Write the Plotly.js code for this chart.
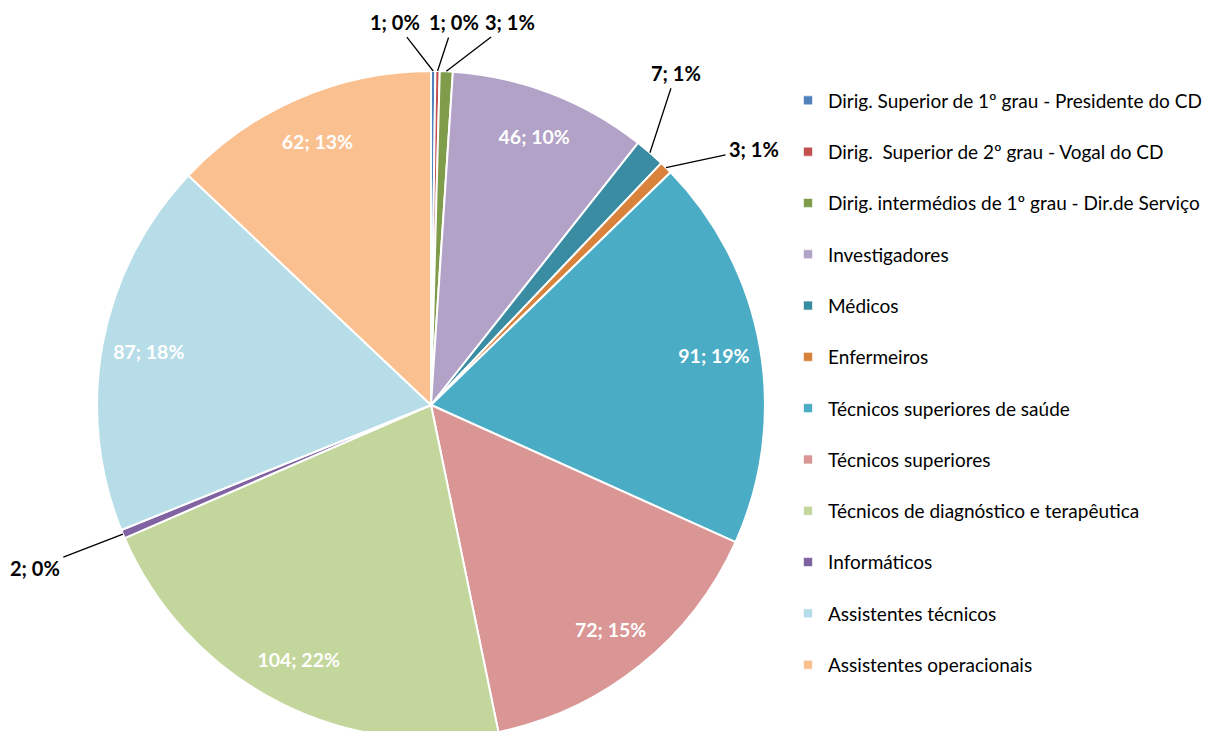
<!DOCTYPE html>
<html><head><meta charset="utf-8">
<script src="https://cdn.plot.ly/plotly-3.0.1.min.js"></script>
<style>html,body{margin:0;padding:0;overflow:hidden;background:#fff}#chart{width:1211px;height:760px}</style>
</head><body><div id="chart"></div>
<script>
const categories = [
  "Dirig. Superior de 1º grau - Presidente do CD",
  "Dirig.  Superior de 2º grau - Vogal do CD",
  "Dirig. intermédios de 1º grau - Dir.de Serviço",
  "Investigadores",
  "Médicos",
  "Enfermeiros",
  "Técnicos superiores de saúde",
  "Técnicos superiores",
  "Técnicos de diagnóstico e terapêutica",
  "Informáticos",
  "Assistentes técnicos",
  "Assistentes operacionais"
];
const values = [1, 1, 3, 46, 7, 3, 91, 72, 104, 2, 87, 62];
const colors = ["#4F81BD","#C0504D","#7F9C4B","#B2A2C7","#3A8CA3","#D9823B","#4BACC6","#D99694","#C3D69B","#8064A2","#B7DDE8","#FAC090"];
const outsideThreshold = 10;

const W = 1211, H = 760;
const cx = 431, cy = 405, R = 334;
const dom = {x:[(cx-R)/W,(cx+R)/W], y:[(H-(cy+R))/H,(H-(cy-R))/H]};

// label placement (pixel offsets of the text centre from the slice's outer edge midpoint)
const labelOffsets = {0:[-38,-49], 1:[16,-49], 2:[64,-49], 4:[26,-80], 5:[88,-19], 9:[-88,34]};

const total = values.reduce((a,b)=>a+b,0);
const fmt = (v)=> v + "; " + Math.round(100*v/total) + "%";
const textArr = values.map(v => v < outsideThreshold ? "" : fmt(v));

const traces = [
 {type:"pie", labels:categories, values:values, sort:false, direction:"clockwise", rotation:0,
  marker:{colors:colors, line:{color:"#FFFFFF", width:2}}, textinfo:"none", hoverinfo:"label+value+percent",
  domain:dom, showlegend:false},
 {type:"pie", labels:categories, values:values, sort:false, direction:"clockwise", rotation:0, hole:0.72,
  marker:{colors:colors.map(()=> "rgba(0,0,0,0)"), line:{width:0}},
  text:textArr, textinfo:"text", textposition:"inside", insidetextorientation:"horizontal",
  textfont:{family:"Lato", size:19.5, color:"#FFFFFF", weight:"bold"},
  hoverinfo:"skip", domain:dom, showlegend:false}
];
categories.forEach((c,i)=>{
  traces.push({type:"scatter", x:[null], y:[null], mode:"markers", name:c, legendgroup:"g"+i,
    marker:{symbol:"square", size:9, color:colors[i], line:{color:"rgba(255,255,255,0.6)", width:1}},
    hoverinfo:"skip"});
});

const annotations = [];
let cum = 0;
values.forEach((v,i)=>{
  const mid = 2*Math.PI*(cum + v/2)/total;
  cum += v;
  if (v >= outsideThreshold) return;
  const px = cx + R*Math.sin(mid), py = cy - R*Math.cos(mid);
  const off = labelOffsets[i] || [0,-30];
  annotations.push({xref:"paper", yref:"paper", x:px/W, y:1-py/H, ax:off[0], ay:off[1],
    text:fmt(v), showarrow:true, arrowhead:0, arrowwidth:1.3, arrowcolor:"#000000", standoff:0, startstandoff:2,
    font:{family:"Lato", size:20, color:"#000000", weight:"bold"}});
});

const layout = {
  width:W, height:H, margin:{l:0,r:0,t:0,b:0},
  paper_bgcolor:"#FFFFFF", plot_bgcolor:"#FFFFFF",
  xaxis:{visible:false}, yaxis:{visible:false},
  showlegend:true, annotations:annotations,
  legend:{x:788/W, xanchor:"left", y:1-81.5/H, yanchor:"top", tracegroupgap:23.6,
    font:{family:"Lato", size:19, color:"#000000"}, bgcolor:"rgba(0,0,0,0)"},
};
Plotly.newPlot("chart", traces, layout, {displayModeBar:false, staticPlot:true});
</script></body></html>
